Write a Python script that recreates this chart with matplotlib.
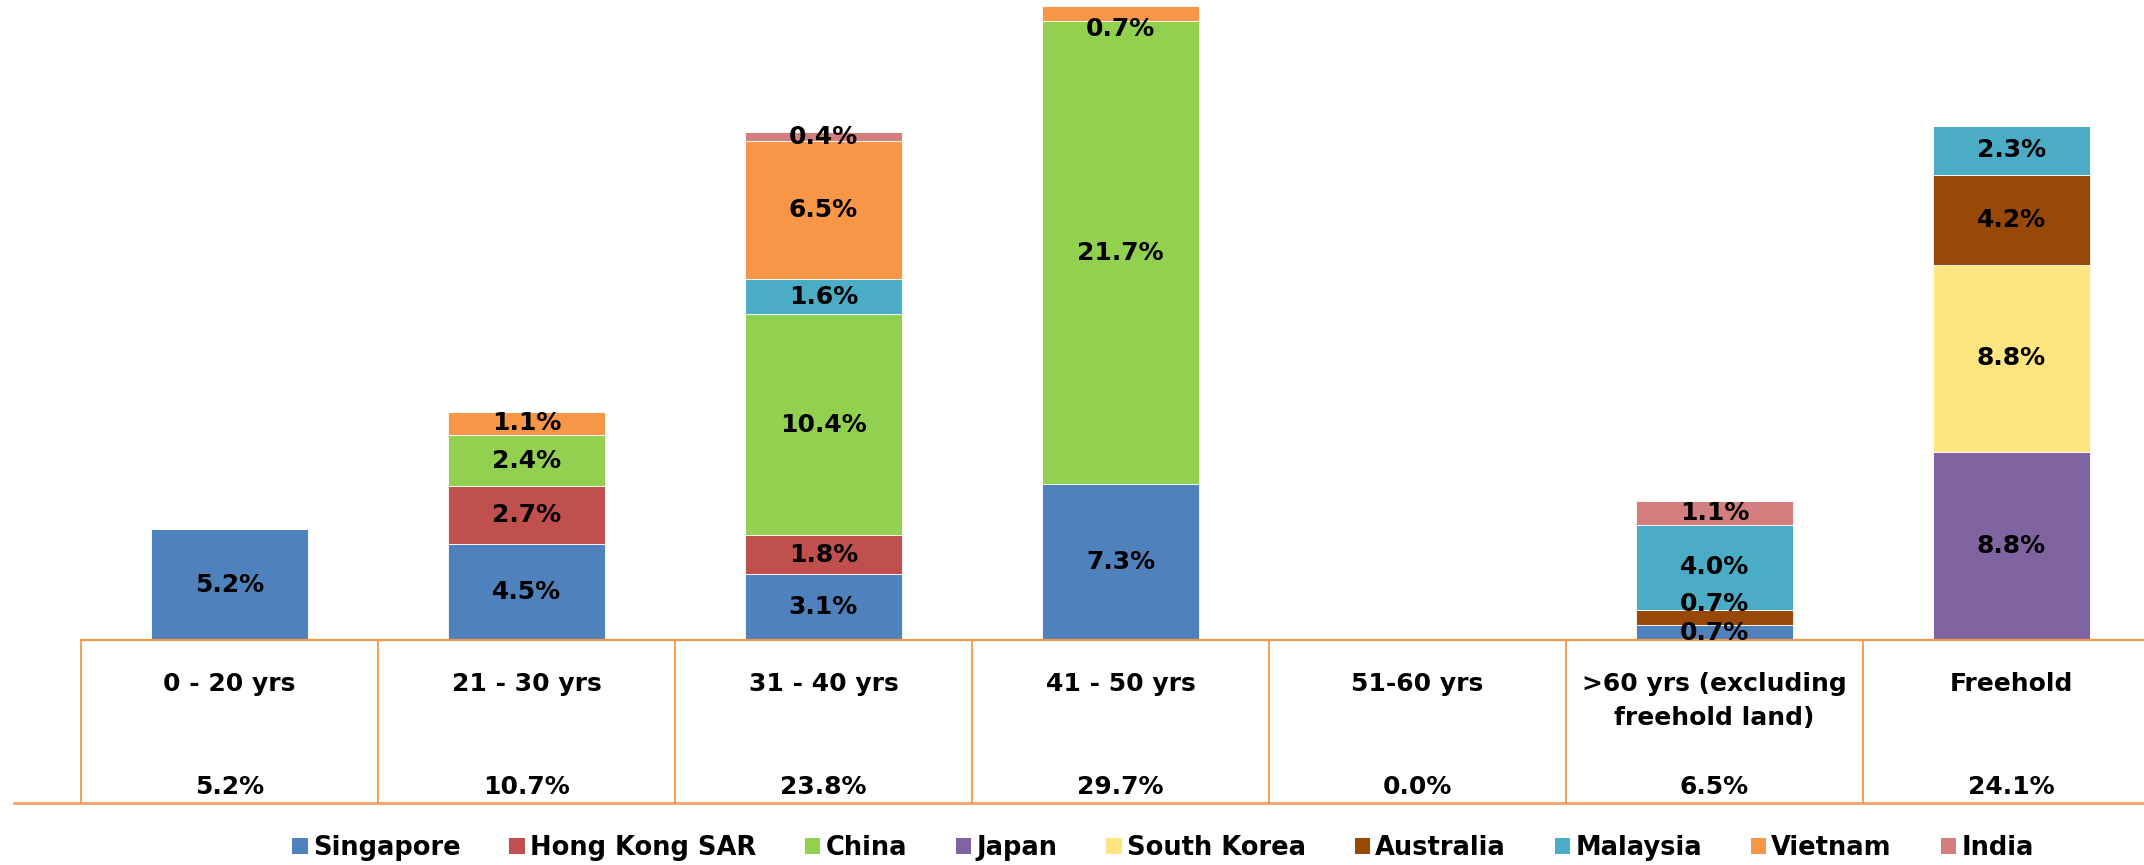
import matplotlib.pyplot as plt
from matplotlib.patches import Patch

categories = ["0 - 20 yrs", "21 - 30 yrs", "31 - 40 yrs", "41 - 50 yrs",
              "51-60 yrs", ">60 yrs (excluding\nfreehold land)", "Freehold"]

countries = ["Singapore", "Hong Kong SAR", "China", "Japan", "South Korea",
             "Australia", "Malaysia", "Vietnam", "India"]

singapore = [5.2, 4.5, 3.1, 7.3, 0, 0.7, 0]
hong_kong = [0, 2.7, 1.8, 0, 0, 0, 0]
china = [0, 2.4, 10.4, 21.7, 0, 0, 0]
japan = [0, 0, 0, 0, 0, 0, 8.8]
south_korea = [0, 0, 0, 0, 0, 0, 8.8]
australia = [0, 0, 0, 0, 0, 0.7, 4.2]
malaysia = [0, 0, 1.6, 0, 0, 4.0, 2.3]
vietnam = [0, 1.1, 6.5, 0.7, 0, 0, 0]
india = [0, 0, 0.4, 0, 0, 1.1, 0]

series = [singapore, hong_kong, china, japan, south_korea,
          australia, malaysia, vietnam, india]
colors = ["#4F81BD", "#C0504D", "#92D050", "#8064A2", "#FFE580",
          "#984807", "#4BACC6", "#F79646", "#D47F7F"]

# label nudges (in % units) where excel moved crowded labels
nudge = {(5, 5): 0.65, (7, 3): -0.7}

orange = "#F79646"
fs = 18

fig = plt.figure(figsize=(21.44, 8.65), dpi=100)
ax = fig.add_axes([81 / 2144, 225 / 865, 2079 / 2144, 640 / 865])

x = list(range(len(categories)))
bottom = [0.0] * len(categories)
for s, (vals, col) in enumerate(zip(series, colors)):
    ax.bar(x, vals, width=0.53, bottom=bottom, color=col,
           edgecolor="white", linewidth=0.6)
    for i, v in enumerate(vals):
        if v > 0:
            y = bottom[i] + v / 2 + nudge.get((s, i), 0)
            ax.text(i, y, f"{v:.1f}%", ha="center", va="center",
                    fontsize=fs, fontweight="bold", color="black")
    bottom = [b + v for b, v in zip(bottom, vals)]

ax.set_xlim(-0.5, len(categories) - 0.5)
ax.set_ylim(0, 30)
for sp in ax.spines.values():
    sp.set_visible(False)
ax.set_xticks([])
ax.set_yticks([])

# table under the axis
tr = ax.get_xaxis_transform()
tbl_bot = -(803 - 640) / 640
ax.plot([-0.5, len(categories) - 0.5], [0, 0], color=orange, lw=1.6,
        transform=tr, clip_on=False)
ax.plot([-0.5 - 67 / 297, len(categories) - 0.5], [tbl_bot, tbl_bot],
        color="#F8A365", lw=2.0, transform=tr, clip_on=False)
for k in range(len(categories) + 1):
    ax.plot([k - 0.5, k - 0.5], [0, tbl_bot], color=orange, lw=1.3,
            transform=tr, clip_on=False)

for i, (cat, tot) in enumerate(zip(categories, bottom)):
    ax.text(i, -(672 - 640) / 640, cat, ha="center", va="top", fontsize=fs,
            fontweight="bold", linespacing=1.55, transform=tr)
    ax.text(i, -(787 - 640) / 640, f"{tot:.1f}%", ha="center", va="center",
            fontsize=fs, fontweight="bold", transform=tr)

handles = [Patch(facecolor=c, edgecolor="none", label=n)
           for c, n in zip(colors, countries)]
leg = fig.legend(handles=handles, loc="center", ncol=9, frameon=False,
                 bbox_to_anchor=(1163 / 2144, 1 - 848 / 865),
                 prop={"size": 18.5, "weight": "bold"},
                 handlelength=0.6, handleheight=0.6, handletextpad=0.2,
                 columnspacing=1.9)

plt.savefig("out.png", dpi=100)
